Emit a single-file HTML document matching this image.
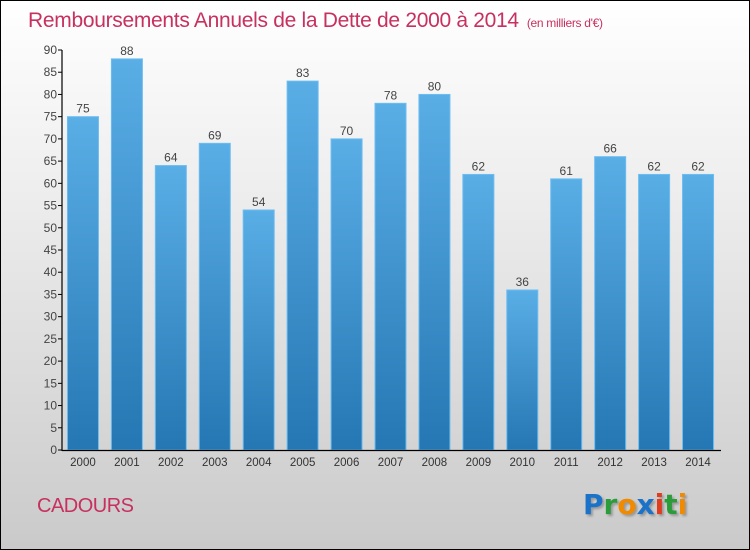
<!DOCTYPE html>
<html><head><meta charset="utf-8"><style>
body{margin:0}
#wrap{position:relative;width:748px;height:548px;border:1px solid #000;background:linear-gradient(#fff 0%,#f0f0f0 30%,#cacaca 100%);font-family:"Liberation Sans",sans-serif;overflow:hidden}
#title{position:absolute;left:27px;top:8px;font-size:21px;color:#c8305f;white-space:nowrap;letter-spacing:-0.3px}
#title small{font-size:12px;margin-left:8px}
#city{position:absolute;left:36px;top:494px;font-size:20px;color:#c8305f;letter-spacing:-0.5px}
#logo{position:absolute;left:582px;top:487px;font-size:28px;font-weight:bold;font-family:"DejaVu Sans",sans-serif;text-shadow:2px 2px 2px #999}
</style></head><body>
<div id="wrap">
<div id="title">Remboursements Annuels de la Dette de 2000 à 2014<small>(en milliers d'€)</small></div>
<svg id="chart" width="748" height="548" style="position:absolute;left:0;top:0">
<defs><linearGradient id="g" x1="0" y1="0" x2="0" y2="1"><stop offset="0" stop-color="#5aaee6"/><stop offset="1" stop-color="#2577b3"/></linearGradient></defs>
</svg>
<div id="city">CADOURS</div>
<div id="logo"><span style="color:#1a73c8">P</span><span style="color:#2a9d3a">r</span><span style="color:#f08a00">o</span><span style="color:#1a73c8">x</span><span style="color:#e03c20">i</span><span style="color:#2a9d3a">t</span><span style="color:#f08a00">i</span></div>
</div>
<script>
const years=["2000","2001","2002","2003","2004","2005","2006","2007","2008","2009","2010","2011","2012","2013","2014"];
const values=[75,88,64,69,54,83,70,78,80,62,36,61,66,62,62];
const yTicks=[0,5,10,15,20,25,30,35,40,45,50,55,60,65,70,75,80,85,90];
const svg=document.getElementById('chart');const NS='http://www.w3.org/2000/svg';
const x0=61,x1=720,yb=449,yt=49,ymax=90;
const step=(x1-x0)/years.length;
const y=v=>yb-(v/ymax)*(yb-yt);
const xc=i=>x0+step*(i+0.5)-1;
function mk(t,a){const e=document.createElementNS(NS,t);for(const k in a)e.setAttribute(k,a[k]);svg.appendChild(e);return e;}
years.forEach((yr,i)=>{
 const r=mk('rect',{x:xc(i)-15.5,y:y(values[i]),width:31,height:yb-y(values[i]),fill:'url(#g)',stroke:'#6cbdf0','stroke-width':1});
 
 
 const t=mk('text',{x:xc(i),y:y(values[i])-4,'text-anchor':'middle','font-size':12,fill:'#444','font-family':'Liberation Sans'});
 t.textContent=values[i];
 
 
 const l=mk('text',{x:xc(i),y:yb+16,'text-anchor':'middle','font-size':11.5,fill:'#333','font-family':'Liberation Sans'});
 l.textContent=yr;
 
 
});
yTicks.forEach(v=>{
 mk('line',{x1:x0-4,x2:x0,y1:y(v),y2:y(v),stroke:'#000'});
 const t=mk('text',{x:x0-5,y:y(v)+4,'text-anchor':'end','font-size':12,fill:'#444','font-family':'Liberation Sans'});
 t.textContent=v;
 
 
});
const ya=mk('line',{x1:x0,x2:x0,y1:yt,y2:yb+1,stroke:'#000','stroke-width':1.2});


const xa=mk('line',{x1:x0,x2:x1,y1:yb+0.5,y2:yb+0.5,stroke:'#000','stroke-width':1.2});


</script>
</body></html>
